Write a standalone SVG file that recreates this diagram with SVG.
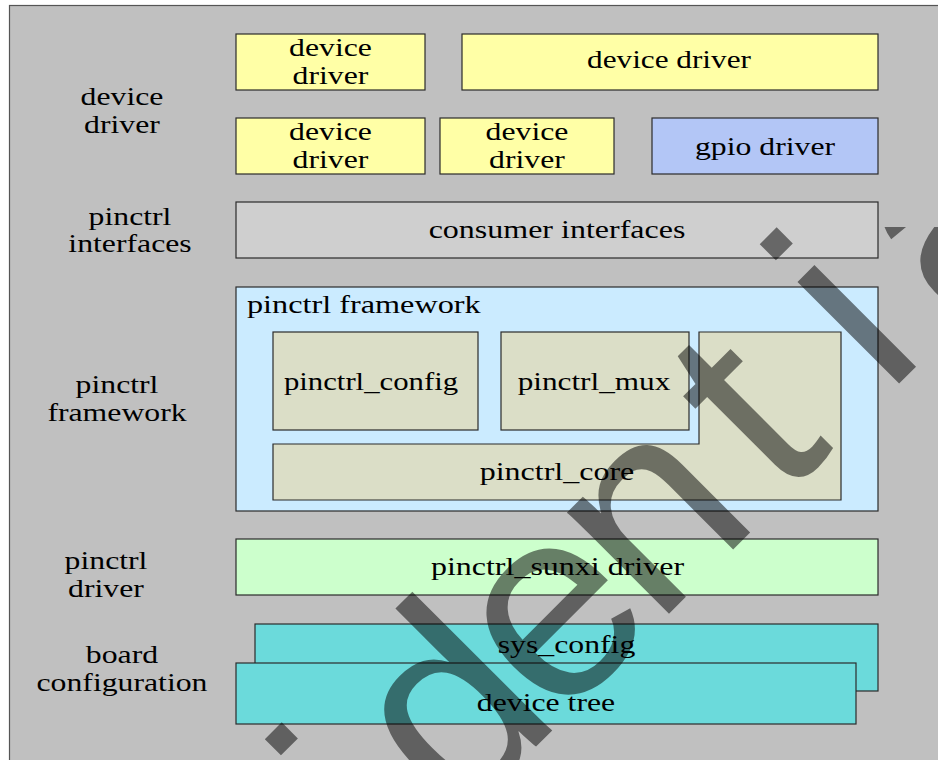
<svg xmlns="http://www.w3.org/2000/svg" width="938" height="760" viewBox="0 0 938 760">
<defs>
<clipPath id="wmclip"><rect x="0" y="227" width="938" height="533"/></clipPath>
</defs>
<style>
.bx{stroke:#2b2b2b;stroke-width:1.2}
.t{font-family:"Liberation Serif","Times New Roman",serif;font-size:25px;fill:#000;text-anchor:middle}
.ts{font-family:"Liberation Serif","Times New Roman",serif;font-size:25px;fill:#000;text-anchor:start}
.yel{fill:#ffffa6}
.gpio{fill:#b3c6f6}
.cons{fill:#cfcfcf}
.fw{fill:#cbebff}
.inner{fill:#dbdec7}
.sunxi{fill:#ccffcc}
.cyan{fill:#6bdadb}
.wm{font-family:"Liberation Sans",Arial,sans-serif;font-size:272px;fill:#000;fill-opacity:0.5}
</style>
<rect x="0" y="0" width="938" height="760" fill="#ffffff"/>
<rect id="frame" x="9.5" y="5.5" width="940" height="770" fill="#c0c0c0" stroke="#555" stroke-width="1.2"/>
<g id="labels">
<text class="t" transform="matrix(1.27,0,0,1,122,104.5)" x="0" y="0">device</text>
<text class="t" transform="matrix(1.27,0,0,1,122,132.5)" x="0" y="0">driver</text>
<text class="t" transform="matrix(1.27,0,0,1,130,224.5)" x="0" y="0">pinctrl</text>
<text class="t" transform="matrix(1.27,0,0,1,130,252)" x="0" y="0">interfaces</text>
<text class="t" transform="matrix(1.27,0,0,1,117,393)" x="0" y="0">pinctrl</text>
<text class="t" transform="matrix(1.27,0,0,1,117,421)" x="0" y="0">framework</text>
<text class="t" transform="matrix(1.27,0,0,1,106,568.5)" x="0" y="0">pinctrl</text>
<text class="t" transform="matrix(1.27,0,0,1,106,596.5)" x="0" y="0">driver</text>
<text class="t" transform="matrix(1.27,0,0,1,122,663)" x="0" y="0">board</text>
<text class="t" transform="matrix(1.27,0,0,1,122,690.5)" x="0" y="0">configuration</text>
</g>
<g id="dd1">
<rect class="bx yel" x="236" y="34" width="189" height="56"/>
<text class="t" transform="matrix(1.27,0,0,1,330.5,55.5)" x="0" y="0">device</text>
<text class="t" transform="matrix(1.27,0,0,1,330.5,83.5)" x="0" y="0">driver</text>
</g>
<g id="dd2">
<rect class="bx yel" x="462" y="34" width="416" height="56"/>
<text class="t" transform="matrix(1.25,0,0,1,669,68)" x="0" y="0">device driver</text>
</g>
<g id="dd3">
<rect class="bx yel" x="236" y="118" width="189" height="56"/>
<text class="t" transform="matrix(1.27,0,0,1,330.5,139.5)" x="0" y="0">device</text>
<text class="t" transform="matrix(1.27,0,0,1,330.5,167.5)" x="0" y="0">driver</text>
</g>
<g id="dd4">
<rect class="bx yel" x="440" y="118" width="174" height="56"/>
<text class="t" transform="matrix(1.27,0,0,1,527,139.5)" x="0" y="0">device</text>
<text class="t" transform="matrix(1.27,0,0,1,527,167.5)" x="0" y="0">driver</text>
</g>
<g id="gpio">
<rect class="bx gpio" x="652" y="118" width="226" height="56"/>
<text class="t" transform="matrix(1.27,0,0,1,765,154.5)" x="0" y="0">gpio driver</text>
</g>
<g id="consumer">
<rect class="bx cons" x="236" y="202" width="642" height="56"/>
<text class="t" transform="matrix(1.28,0,0,1,557,238)" x="0" y="0">consumer interfaces</text>
</g>
<g id="framework">
<rect class="bx fw" x="236" y="287" width="642" height="224"/>
<text class="ts" transform="matrix(1.29,0,0,1,247,313)" x="0" y="0">pinctrl framework</text>
</g>
<g id="config">
<rect class="bx inner" x="273" y="332" width="205" height="98"/>
<text class="t" transform="matrix(1.23,0,0,1,371,389.5)" x="0" y="0">pinctrl_config</text>
</g>
<g id="mux">
<rect class="bx inner" x="501" y="332" width="188" height="98"/>
<text class="t" transform="matrix(1.25,0,0,1,594,389.5)" x="0" y="0">pinctrl_mux</text>
</g>
<g id="core">
<path class="bx inner" d="M273,444 L699,444 L699,332 L841,332 L841,500 L273,500 Z"/>
<text class="t" transform="matrix(1.28,0,0,1,557,480)" x="0" y="0">pinctrl_core</text>
</g>
<g id="sunxi">
<rect class="bx sunxi" x="236" y="539" width="642" height="56"/>
<text class="t" transform="matrix(1.28,0,0,1,557.5,575)" x="0" y="0">pinctrl_sunxi driver</text>
</g>
<g id="sysconfig">
<rect class="bx cyan" x="255" y="624" width="623" height="67"/>
<text class="t" transform="matrix(1.27,0,0,1,566.5,653)" x="0" y="0">sys_config</text>
</g>
<g id="devicetree">
<rect class="bx cyan" x="236" y="663" width="620" height="61"/>
<text class="t" transform="matrix(1.27,0,0,1,546,711)" x="0" y="0">device tree</text>
</g>
<g id="connectors"></g>
<g id="watermark" clip-path="url(#wmclip)">
<text class="wm" transform="rotate(-45)" x="-982.7 -819.75 -679.75 -501.35 -353.6 -259.75 -119.75 20.25 198.65 346.35 443 626.35" y="907">Confidential</text>
</g>
</svg>
